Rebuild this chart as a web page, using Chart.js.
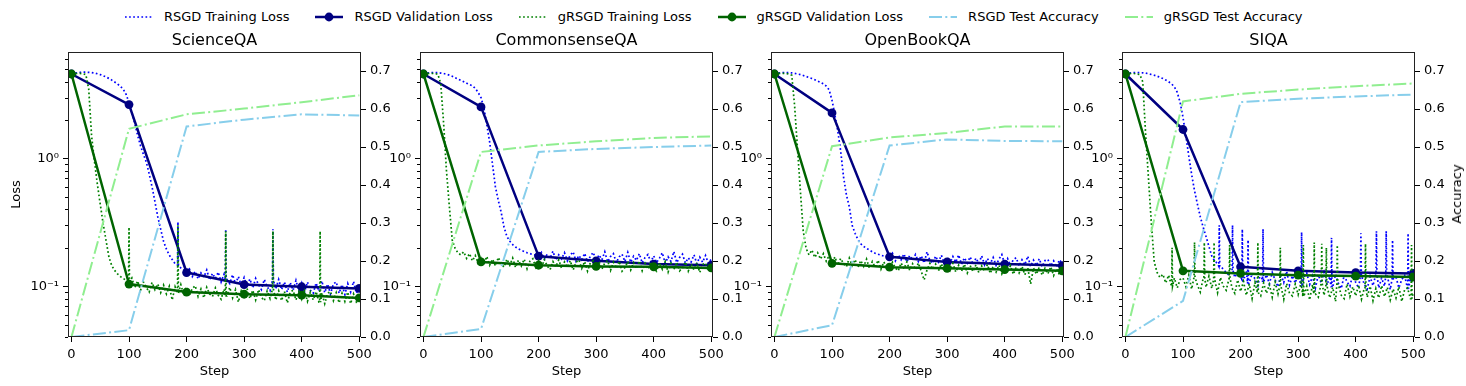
<!DOCTYPE html>
<html lang="en">
<head>
<meta charset="UTF-8">
<title>RSGD vs gRSGD: loss and accuracy</title>
<style>
  html,body{margin:0;padding:0;background:#fff}
  body{width:1466px;height:386px;overflow:hidden;position:relative;font-family:"DejaVu Sans",sans-serif}
  .legend{position:absolute;left:125px;top:9px;display:flex;align-items:center;font-size:13px;line-height:16px;color:#000;white-space:nowrap}
  .legend .item{display:flex;align-items:center;margin-right:26px}
  .legend svg{margin-right:11px}
  canvas{position:absolute;top:28px}
  .ylab-right{position:absolute;left:1457px;top:194px;font-size:13px;line-height:16px;color:#000;
              transform:translate(-50%,-50%) rotate(-90deg);white-space:nowrap}
</style>
</head>
<body>
<div class="legend" id="legend"></div>
<canvas id="p0" width="413" height="358"></canvas>
<canvas id="p1" width="413" height="358"></canvas>
<canvas id="p2" width="413" height="358"></canvas>
<canvas id="p3" width="413" height="358"></canvas>
<div class="ylab-right">Accuracy</div>

<script src="https://cdn.jsdelivr.net/npm/chart.js@4.4.1"></script>
<script>
/* ---------- axes / categories ---------- */
const trainSteps = [0,5,10,15,20,25,30,35,40,45,50,55,60,65,70,75,80,85,90,95,
  100,105,110,115,120,125,130,135,140,145,150,155,160,165,170,175,180,185,190,195,
  200,205,210,215,220,225,230,235,240,245,250,255,260,265,270,275,280,285,290,295,
  300,305,310,315,320,325,330,335,340,345,350,355,360,365,370,375,380,385,390,395,
  400,405,410,415,420,425,430,435,440,445,450,455,460,465,470,475,480,485,490,495,500];
const evalSteps = [0,100,200,300,400,500];
const xTicks    = [0,100,200,300,400,500];
const lossTicks = [0.1,1];
const lossMinor = [0.04,0.05,0.06,0.07,0.08,0.09,0.2,0.3,0.4,0.5,0.6,0.7,0.8,0.9,2,3,4,5,6];
const accTicks  = [0,0.1,0.2,0.3,0.4,0.5,0.6,0.7];
const taskNames = ['ScienceQA','CommonsenseQA','OpenBookQA','SIQA'];
const seriesNames = ['RSGD Training Loss','RSGD Validation Loss','gRSGD Training Loss',
                     'gRSGD Validation Loss','RSGD Test Accuracy','gRSGD Test Accuracy'];

/* ---------- ScienceQA ---------- */
const sciTrainR = [
 4.60,4.66,4.70,4.73,4.75,4.75,4.74,4.72,4.68,4.62,
 4.55,4.46,4.36,4.25,4.12,3.98,3.84,3.68,3.50,3.18,
 2.75,2.30,1.88,1.52,1.26,1.08,0.94,0.76,0.60,0.46,
 0.35,0.28,0.225,0.195,0.175,0.162,0.150,0.146,0.139,0.134,
 0.128,0.136,0.119,0.131,0.114,0.127,0.118,0.134,0.112,0.126,
 0.115,0.129,0.108,0.124,0.113,0.105,0.123,0.104,0.119,0.101,
 0.117,0.100,0.114,0.097,0.115,0.103,0.094,0.113,0.099,0.092,
 0.111,0.095,0.113,0.094,0.108,0.090,0.107,0.093,0.111,0.092,
 0.106,0.090,0.108,0.093,0.088,0.106,0.091,0.110,0.089,0.104,
 0.087,0.104,0.108,0.088,0.103,0.086,0.105,0.090,0.109,0.088,
 0.098];
const sciTrainG = [
 4.60,4.62,4.64,4.65,4.62,4.55,3.50,1.50,0.95,0.63,
 0.44,0.31,0.23,0.17,0.145,0.133,0.125,0.119,0.115,0.111,
 0.108,0.116,0.097,0.110,0.093,0.108,0.098,0.090,0.107,0.094,
 0.104,0.089,0.102,0.087,0.100,0.078,0.099,0.088,0.103,0.086,
 0.099,0.085,0.096,0.101,0.083,0.095,0.081,0.098,0.087,0.083,
 0.097,0.085,0.079,0.095,0.084,0.098,0.081,0.094,0.075,0.092,
 0.083,0.096,0.080,0.093,0.078,0.094,0.082,0.077,0.092,0.080,
 0.095,0.078,0.092,0.077,0.091,0.074,0.090,0.093,0.078,0.091,
 0.079,0.092,0.076,0.090,0.078,0.091,0.075,0.089,0.073,0.088,
 0.091,0.077,0.089,0.074,0.088,0.076,0.090,0.073,0.087,0.075,
 0.078];
const sciSpikeR = [[185,0.32],[268,0.28],[350,0.28]];
const sciSpikeG = [[100,0.29],[185,0.30],[268,0.27],[350,0.27],[432,0.27]];
const sciValR = [4.6,2.65,0.128,0.103,0.099,0.096];
const sciValG = [4.6,0.104,0.090,0.0865,0.085,0.081];
const sciAccR = [0,0.018,0.554,0.572,0.586,0.583];
const sciAccG = [0,0.548,0.586,0.601,0.618,0.636];

/* ---------- CommonsenseQA ---------- */
const csqaTrainR = [
 4.60,4.66,4.70,4.72,4.72,4.71,4.68,4.64,4.58,4.51,
 4.42,4.30,4.20,4.10,4.00,3.90,3.80,3.72,3.55,3.30,
 3.00,2.50,1.85,1.35,0.90,0.60,0.47,0.38,0.29,0.245,
 0.225,0.212,0.203,0.196,0.191,0.187,0.183,0.180,0.177,0.175,
 0.172,0.184,0.163,0.178,0.166,0.188,0.160,0.176,0.164,0.183,
 0.158,0.175,0.186,0.157,0.174,0.161,0.181,0.155,0.172,0.184,
 0.157,0.176,0.161,0.186,0.155,0.171,0.180,0.153,0.170,0.178,
 0.156,0.184,0.154,0.172,0.159,0.180,0.152,0.168,0.177,0.155,
 0.173,0.153,0.166,0.183,0.151,0.170,0.156,0.187,0.153,0.168,
 0.178,0.152,0.167,0.155,0.176,0.150,0.169,0.154,0.174,0.151,
 0.163];
const csqaTrainG = [
 4.60,4.63,4.65,4.65,4.63,4.58,3.87,1.90,0.80,0.42,
 0.23,0.198,0.182,0.176,0.186,0.165,0.180,0.158,0.174,0.152,
 0.166,0.150,0.171,0.146,0.163,0.144,0.168,0.150,0.141,0.163,
 0.146,0.166,0.140,0.160,0.144,0.163,0.137,0.157,0.164,0.141,
 0.158,0.139,0.162,0.144,0.135,0.156,0.142,0.161,0.138,0.155,
 0.141,0.159,0.134,0.154,0.161,0.138,0.156,0.131,0.153,0.158,
 0.139,0.156,0.136,0.152,0.159,0.133,0.154,0.138,0.157,0.131,
 0.140,0.156,0.134,0.153,0.137,0.158,0.132,0.151,0.136,0.155,
 0.138,0.131,0.153,0.136,0.156,0.129,0.151,0.135,0.154,0.132,
 0.139,0.155,0.131,0.149,0.134,0.153,0.128,0.148,0.152,0.131,
 0.141];
const csqaSpikeR = [];
const csqaSpikeG = [];
const csqaValR = [4.6,2.54,0.172,0.158,0.149,0.146];
const csqaValG = [4.6,0.155,0.146,0.143,0.142,0.139];
const csqaAccR = [0,0.021,0.487,0.495,0.500,0.504];
const csqaAccG = [0,0.487,0.504,0.515,0.524,0.528];

/* ---------- OpenBookQA ---------- */
const obqaTrainR = [
 4.60,4.66,4.70,4.72,4.72,4.71,4.69,4.65,4.60,4.55,
 4.48,4.40,4.32,4.24,4.15,4.05,3.95,3.85,3.70,3.45,
 2.86,2.20,1.65,1.15,0.72,0.52,0.42,0.30,0.26,0.232,
 0.215,0.205,0.198,0.192,0.186,0.181,0.178,0.175,0.172,0.170,
 0.168,0.181,0.158,0.176,0.161,0.179,0.155,0.174,0.160,0.177,
 0.156,0.173,0.152,0.186,0.159,0.151,0.172,0.155,0.175,0.150,
 0.168,0.152,0.171,0.154,0.176,0.149,0.167,0.152,0.170,0.148,
 0.166,0.151,0.173,0.147,0.165,0.150,0.168,0.146,0.163,0.177,
 0.149,0.165,0.145,0.162,0.167,0.144,0.161,0.147,0.172,0.143,
 0.160,0.145,0.164,0.142,0.159,0.162,0.144,0.158,0.141,0.161,
 0.151];
const obqaTrainG = [
 4.60,4.63,4.65,4.66,4.64,4.60,4.50,2.60,1.20,0.56,
 0.27,0.198,0.176,0.192,0.168,0.183,0.163,0.180,0.157,0.174,
 0.152,0.170,0.146,0.165,0.150,0.142,0.166,0.145,0.162,0.140,
 0.159,0.143,0.163,0.138,0.156,0.141,0.160,0.136,0.155,0.140,
 0.135,0.154,0.139,0.132,0.152,0.137,0.155,0.133,0.150,0.135,
 0.152,0.131,0.112,0.134,0.151,0.136,0.149,0.132,0.150,0.130,
 0.148,0.133,0.151,0.129,0.146,0.131,0.149,0.127,0.145,0.130,
 0.147,0.128,0.144,0.131,0.148,0.126,0.143,0.129,0.146,0.125,
 0.142,0.128,0.145,0.124,0.141,0.127,0.143,0.123,0.140,0.104,
 0.139,0.124,0.141,0.122,0.138,0.125,0.142,0.121,0.137,0.123,
 0.131];
const obqaSpikeR = [];
const obqaSpikeG = [];
const obqaValR = [4.6,2.28,0.170,0.155,0.149,0.145];
const obqaValG = [4.6,0.151,0.141,0.138,0.135,0.132];
const obqaAccR = [0,0.031,0.504,0.520,0.516,0.515];
const obqaAccG = [0,0.502,0.525,0.537,0.554,0.554];

/* ---------- SIQA ---------- */
const siqaTrainR = [
 4.60,4.66,4.70,4.72,4.72,4.71,4.70,4.67,4.62,4.56,
 4.50,4.42,4.33,4.24,4.12,4.00,3.85,3.65,3.30,2.75,
 2.10,1.50,1.05,0.75,0.56,0.44,0.35,0.29,0.245,0.205,
 0.172,0.158,0.150,0.143,0.136,0.128,0.122,0.133,0.117,0.130,
 0.124,0.110,0.132,0.105,0.126,0.114,0.101,0.129,0.108,0.123,
 0.104,0.128,0.112,0.099,0.124,0.107,0.131,0.102,0.121,0.106,
 0.126,0.100,0.118,0.127,0.103,0.120,0.097,0.123,0.106,0.128,
 0.102,0.119,0.098,0.124,0.105,0.096,0.122,0.108,0.100,0.125,
 0.107,0.097,0.121,0.103,0.095,0.119,0.101,0.124,0.097,0.116,
 0.100,0.120,0.094,0.114,0.118,0.097,0.113,0.121,0.096,0.115,
 0.106];
const siqaTrainG = [
 4.60,4.62,4.64,4.64,4.60,4.55,4.00,1.57,0.70,0.31,
 0.155,0.128,0.117,0.124,0.106,0.122,0.100,0.116,0.097,0.113,
 0.116,0.099,0.122,0.095,0.118,0.102,0.090,0.115,0.098,0.120,
 0.096,0.113,0.089,0.117,0.100,0.093,0.115,0.097,0.088,0.112,
 0.091,0.109,0.085,0.104,0.080,0.107,0.089,0.084,0.106,0.088,
 0.103,0.082,0.108,0.087,0.101,0.079,0.105,0.088,0.084,0.104,
 0.086,0.107,0.083,0.100,0.078,0.103,0.087,0.082,0.105,0.085,
 0.101,0.081,0.098,0.076,0.102,0.085,0.080,0.104,0.083,0.099,
 0.084,0.102,0.079,0.097,0.082,0.100,0.077,0.096,0.081,0.101,
 0.083,0.098,0.078,0.095,0.081,0.099,0.076,0.094,0.097,0.080,
 0.090];
const siqaSpikeR = [[163,0.30],[186,0.30],[203,0.28],[213,0.23],[239,0.28],[306,0.265],
                    [358,0.24],[409,0.26],[436,0.27],[453,0.27],[464,0.23],[491,0.26]];
const siqaSpikeG = [[81,0.20],[120,0.22],[137,0.22],[154,0.22],[181,0.21],[230,0.22],[269,0.20],
                    [309,0.21],[328,0.22],[341,0.215],[349,0.20],[368,0.21],[417,0.215],[497,0.21]];
const siqaValR = [4.6,1.69,0.142,0.132,0.128,0.126];
const siqaValG = [4.6,0.132,0.126,0.122,0.120,0.118];
const siqaAccR = [0,0.095,0.618,0.627,0.633,0.638];
const siqaAccG = [0,0.620,0.640,0.651,0.660,0.667];

/* ---------- styles / layout ---------- */
const C_TRAIN_R = '#0000ff', C_VAL_R = '#000080';
const C_TRAIN_G = '#008000', C_VAL_G = '#006400';
const C_ACC_R = '#87ceeb', C_ACC_G = '#90ee90';
const DOT = [1.7,2.4], DASHDOT = [13,3.3,2,3.3];
const PLOT_LEFT = [68,420,771,1122];
const SIDE = 60;

Chart.defaults.font.family = "'DejaVu Sans', sans-serif";
Chart.defaults.font.size = 13;
Chart.defaults.color = '#000';

/* ---------- helpers ---------- */
function trainPoints(vals, spikes){
  const skip = new Set(spikes.map(s => s[0]));
  const pts = [];
  trainSteps.forEach((s,i) => { if(!skip.has(s)) pts.push({x:s, y:vals[i]}); });
  spikes.forEach(([s,peak]) => {
    let k = 0;
    trainSteps.forEach((t,i) => { if(Math.abs(t-s) < Math.abs(trainSteps[k]-s)) k = i; });
    const base = vals[k];
    pts.push({x:s-0.8, y:base}, {x:s, y:peak}, {x:s+0.8, y:base});
  });
  return pts.sort((a,b) => a.x - b.x);
}
const evalPoints = vals => evalSteps.map((s,i) => ({x:s, y:vals[i]}));

/* frame (spines) + minor log ticks */
const framePlugin = {
  id:'frame',
  afterDraw(chart){
    const {ctx, chartArea:a, scales} = chart;
    ctx.save();
    ctx.strokeStyle = '#000';
    ctx.lineWidth = 1;
    lossMinor.forEach(v => {
      const y = Math.round(scales.yL.getPixelForValue(v)) + 0.5;
      ctx.beginPath(); ctx.moveTo(a.left - 3, y); ctx.lineTo(a.left, y); ctx.stroke();
    });
    ctx.strokeStyle = '#222';
    ctx.strokeRect(Math.round(a.left)+0.5, Math.round(a.top)+0.5,
                   Math.round(a.width)-1, Math.round(a.height)-1);
    ctx.restore();
  }
};

function axisGrid(){
  return {drawOnChartArea:false, drawTicks:true, tickLength:5, color:'#000', tickColor:'#000', tickWidth:1};
}

function buildPanel(i, trainR, spikeR, valR, trainG, spikeG, valG, accR, accG){
  const cv = document.getElementById('p'+i);
  cv.style.left = (PLOT_LEFT[i] - SIDE) + 'px';
  new Chart(cv, {
    type:'line',
    data:{datasets:[
      {label:seriesNames[0], data:trainPoints(trainR, spikeR), yAxisID:'yL', borderColor:C_TRAIN_R,
       borderWidth:1.7, borderDash:DOT, pointRadius:0, order:6, clip:0},
      {label:seriesNames[1], data:evalPoints(valR), yAxisID:'yL', borderColor:C_VAL_R, borderWidth:2.5,
       pointRadius:4.4, pointBorderWidth:0, pointBackgroundColor:C_VAL_R, borderJoinStyle:'round', order:5, clip:0},
      {label:seriesNames[2], data:trainPoints(trainG, spikeG), yAxisID:'yL', borderColor:C_TRAIN_G,
       borderWidth:1.7, borderDash:DOT, pointRadius:0, order:4, clip:0},
      {label:seriesNames[3], data:evalPoints(valG), yAxisID:'yL', borderColor:C_VAL_G, borderWidth:2.5,
       pointRadius:4.4, pointBorderWidth:0, pointBackgroundColor:C_VAL_G, borderJoinStyle:'round', order:3, clip:0},
      {label:seriesNames[4], data:evalPoints(accR), yAxisID:'yR', borderColor:C_ACC_R, borderWidth:2,
       borderDash:DASHDOT, pointRadius:0, order:2, clip:0},
      {label:seriesNames[5], data:evalPoints(accG), yAxisID:'yR', borderColor:C_ACC_G, borderWidth:2,
       borderDash:DASHDOT, pointRadius:0, order:1, clip:0}
    ]},
    options:{
      responsive:false, animation:false, events:[],
      layout:{padding:0},
      elements:{line:{tension:0}},
      plugins:{
        legend:{display:false}, tooltip:{enabled:false},
        title:{display:true, text:taskNames[i], color:'#000',
               font:{size:16, weight:'normal'}, padding:{top:2.8, bottom:2}}
      },
      scales:{
        x:{type:'linear', min:-6, max:503,
           afterBuildTicks:s => { s.ticks = xTicks.map(v => ({value:v})); },
           afterFit:s => { s.height = 49; },
           ticks:{padding:5, maxRotation:0, autoSkip:false},
           grid:axisGrid(), border:{display:false},
           title:{display:true, text:'Step', padding:{top:0, bottom:7}}},
        yL:{type:'logarithmic', position:'left', min:0.04, max:6.84,
           afterBuildTicks:s => { s.ticks = lossTicks.map(v => ({value:v})); },
           afterFit:s => { s.width = SIDE; },
           ticks:{padding:4, callback:v => v === 1 ? '10\u2070' : '10\u207B\u00B9'},
           grid:axisGrid(), border:{display:false},
           title:{display:i === 0, text:'Loss', padding:{top:1, bottom:0}}},
        yR:{type:'linear', position:'right', min:0, max:0.75,
           afterBuildTicks:s => { s.ticks = accTicks.map(v => ({value:v})); },
           afterFit:s => { s.width = SIDE; },
           ticks:{padding:4, callback:v => v.toFixed(1)},
           grid:axisGrid(), border:{display:false}}
      }
    },
    plugins:[framePlugin]
  });
}

buildPanel(0, sciTrainR, sciSpikeR, sciValR, sciTrainG, sciSpikeG, sciValG, sciAccR, sciAccG);
buildPanel(1, csqaTrainR, csqaSpikeR, csqaValR, csqaTrainG, csqaSpikeG, csqaValG, csqaAccR, csqaAccG);
buildPanel(2, obqaTrainR, obqaSpikeR, obqaValR, obqaTrainG, obqaSpikeG, obqaValG, obqaAccR, obqaAccG);
buildPanel(3, siqaTrainR, siqaSpikeR, siqaValR, siqaTrainG, siqaSpikeG, siqaValG, siqaAccR, siqaAccG);

/* ---------- shared legend ---------- */
const swatches = [
  `<line x1="0" y1="7" x2="28" y2="7" stroke="${C_TRAIN_R}" stroke-width="1.7" stroke-dasharray="1.7 2.4"/>`,
  `<line x1="0" y1="7" x2="28" y2="7" stroke="${C_VAL_R}" stroke-width="2.5"/><circle cx="14" cy="7" r="4.4" fill="${C_VAL_R}"/>`,
  `<line x1="0" y1="7" x2="28" y2="7" stroke="${C_TRAIN_G}" stroke-width="1.7" stroke-dasharray="1.7 2.4"/>`,
  `<line x1="0" y1="7" x2="28" y2="7" stroke="${C_VAL_G}" stroke-width="2.5"/><circle cx="14" cy="7" r="4.4" fill="${C_VAL_G}"/>`,
  `<line x1="0" y1="7" x2="28" y2="7" stroke="${C_ACC_R}" stroke-width="2" stroke-dasharray="13 3.3 2 3.3"/>`,
  `<line x1="0" y1="7" x2="28" y2="7" stroke="${C_ACC_G}" stroke-width="2" stroke-dasharray="13 3.3 2 3.3"/>`
];
document.getElementById('legend').innerHTML = seriesNames.map((n,k) =>
  `<div class="item"><svg width="28" height="14">${swatches[k]}</svg><span>${n}</span></div>`).join('');
</script>
</body>
</html>
